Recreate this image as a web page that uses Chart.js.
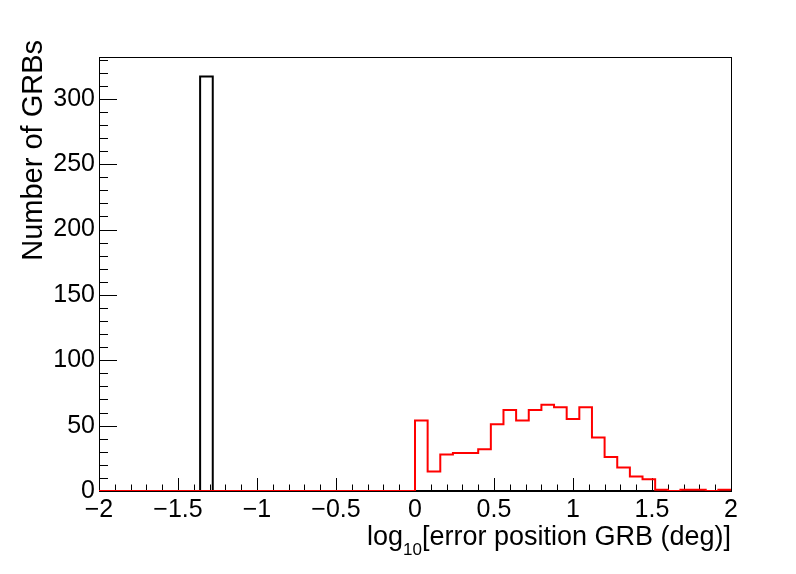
<!DOCTYPE html>
<html>
<head>
<meta charset="utf-8">
<script src="https://cdn.jsdelivr.net/npm/chart.js@4.4.1/dist/chart.umd.min.js"></script>
<style>
  html, body { margin: 0; padding: 0; background: #fff; }
  #wrap { width: 796px; height: 574px; }
</style>
</head>
<body>
<div id="wrap"><canvas id="grbChart" width="796" height="574"></canvas></div>
<script>
// Histogramas: 50 bins de -2 a 2 (ancho 0.08)
const xMin = -2;
const xMax = 2;
const binWidth = 0.08;

// Bins de -2 a 0: todos vacios en rojo
const redCounts = [
  0, 0, 0, 0, 0, 0, 0, 0, 0, 0,
  0, 0, 0, 0, 0, 0, 0, 0, 0, 0,
  0, 0, 0, 0, 0,
  54, 15, 28, 29, 29, 32, 51, 62, 54, 62,
  66, 64, 55, 64, 41, 26, 18, 11, 9, 1,
  0, 1, 1, 0, 1
];
// Solo un bin lleno (-1.36 .. -1.28)
const blackCounts = [
  0, 0, 0, 0, 0, 0, 0, 0, 317, 0,
  0, 0, 0, 0, 0, 0, 0, 0, 0, 0,
  0, 0, 0, 0, 0, 0, 0, 0, 0, 0,
  0, 0, 0, 0, 0, 0, 0, 0, 0, 0,
  0, 0, 0, 0, 0, 0, 0, 0, 0, 0
];

const yMax = 332;
const xTitle = ['log', '10', '[error position GRB (deg)]'];
const yTitle = 'Number of GRBs';

// Convierte conteos en puntos escalonados (borde izquierdo de cada bin + borde final)
const toSteps = counts => {
  const pts = counts.map((c, i) => ({ x: +(xMin + i * binWidth).toFixed(2), y: c }));
  pts.push({ x: xMax, y: counts[counts.length - 1] });
  return pts;
};

const fmt = v => v < 0 ? '\u2212' + Math.abs(v) : String(v);

// Ticks interiores estilo ROOT + marco + titulos
const rootAxes = {
  id: 'rootAxes',
  beforeDatasetsDraw(chart) {
    const { ctx, chartArea: a, scales: { x, y } } = chart;
    ctx.save();
    ctx.strokeStyle = '#000';
    ctx.lineWidth = 1;
    ctx.beginPath();
    for (let i = -20; i <= 20; i++) {
      const px = Math.round(x.getPixelForValue(i / 10)) + 0.5;
      const len = i % 5 === 0 ? 13 : 6.5;
      ctx.moveTo(px, a.bottom);
      ctx.lineTo(px, a.bottom - len);
    }
    for (let v = 0; v <= 330; v += 10) {
      const py = Math.round(y.getPixelForValue(v)) + 0.5;
      const len = v % 50 === 0 ? 18 : 9;
      ctx.moveTo(a.left, py);
      ctx.lineTo(a.left + len, py);
    }
    ctx.stroke();
    ctx.strokeRect(a.left + 0.5, a.top + 0.5, a.right - a.left, a.bottom - a.top);
    ctx.restore();
  },
  afterDraw(chart) {
    const { ctx, chartArea: a } = chart;
    ctx.save();
    ctx.fillStyle = '#000';
    ctx.textBaseline = 'alphabetic';
    // titulo eje x con subindice
    const big = '27px "Liberation Sans", Arial, sans-serif';
    const small = '17px "Liberation Sans", Arial, sans-serif';
    ctx.font = big;
    const w1 = ctx.measureText(xTitle[0]).width;
    const w3 = ctx.measureText(xTitle[2]).width;
    ctx.font = small;
    const w2 = ctx.measureText(xTitle[1]).width;
    let tx = a.right - (w1 + w2 + w3);
    const ty = 545;
    ctx.font = big;
    ctx.fillText(xTitle[0], tx, ty);
    tx += w1;
    ctx.font = small;
    ctx.fillText(xTitle[1], tx, ty + 10);
    tx += w2;
    ctx.font = big;
    ctx.fillText(xTitle[2], tx, ty);
    // titulo eje y
    ctx.font = '29px "Liberation Sans", Arial, sans-serif';
    ctx.translate(42, 40);
    ctx.rotate(-Math.PI / 2);
    ctx.textAlign = 'right';
    ctx.fillText(yTitle, 0, 0);
    ctx.restore();
  }
};

Chart.defaults.font.family = '"Liberation Sans", Arial, sans-serif';
Chart.defaults.color = '#000';

new Chart(document.getElementById('grbChart'), {
  type: 'line',
  data: {
    datasets: [
      {
        label: 'red',
        data: toSteps(redCounts),
        borderColor: '#ff0000',
        borderWidth: 2,
        stepped: true,
        pointRadius: 0,
        fill: false,
        order: 0
      },
      {
        label: 'black',
        data: toSteps(blackCounts),
        borderColor: '#000000',
        borderWidth: 2,
        stepped: true,
        pointRadius: 0,
        fill: false,
        order: 1
      }
    ]
  },
  options: {
    responsive: false,
    animation: false,
    devicePixelRatio: 1,
    layout: { padding: { left: 0, right: 65, top: 57, bottom: 0 } },
    plugins: { legend: { display: false }, tooltip: { enabled: false } },
    scales: {
      x: {
        type: 'linear',
        min: xMin,
        max: xMax,
        grid: { display: false, drawTicks: false },
        border: { display: false },
        ticks: {
          stepSize: 0.5,
          includeBounds: false,
          autoSkip: false,
          maxRotation: 0,
          padding: 4,
          font: { size: 25 },
          callback: v => fmt(v)
        },
        afterFit: s => { s.height = 83; }
      },
      y: {
        min: 0,
        max: yMax,
        grid: { display: false, drawTicks: false },
        border: { display: false },
        ticks: {
          stepSize: 50,
          includeBounds: false,
          padding: 4,
          font: { size: 25 },
          callback: v => fmt(v)
        },
        afterFit: s => { s.width = 99; }
      }
    }
  },
  plugins: [rootAxes]
});
</script>
</body>
</html>
